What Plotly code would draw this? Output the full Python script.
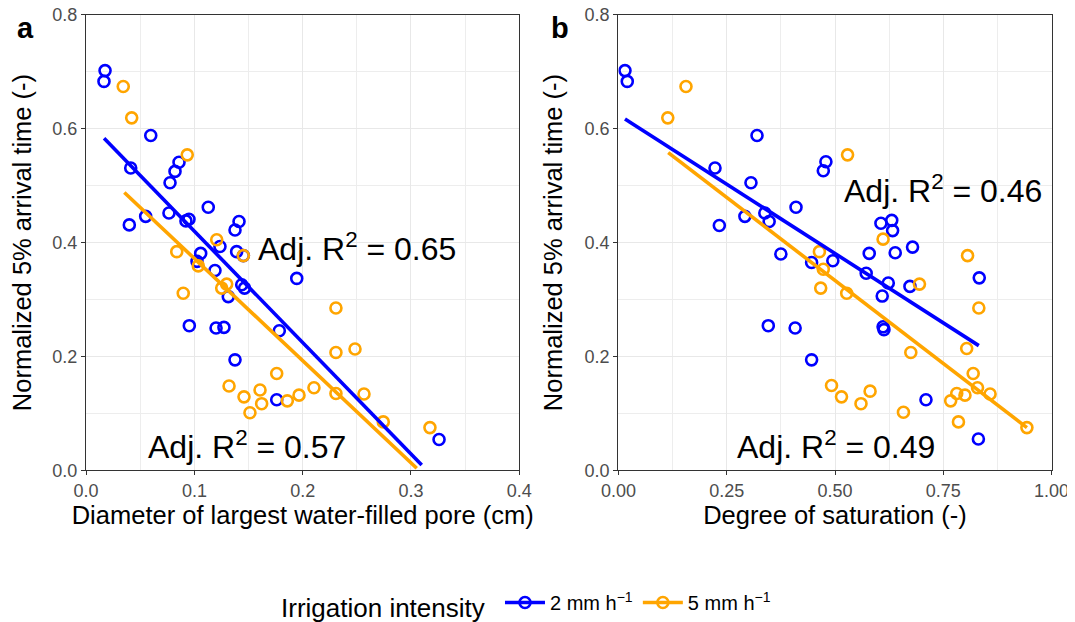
import plotly.graph_objects as go
from plotly.subplots import make_subplots

# panel a: diameter of largest water-filled pore (cm)
a_blue_x = [0.0175, 0.0165, 0.0597, 0.0412, 0.0399, 0.055, 0.0775, 0.0821, 0.0858, 0.0765,
            0.0922, 0.095, 0.1128, 0.1412, 0.1375, 0.1236, 0.1058, 0.1024, 0.139, 0.1452,
            0.119, 0.1313, 0.1437, 0.1463, 0.1945, 0.0953, 0.12, 0.1273, 0.1784, 0.1375,
            0.176, 0.3259]
a_blue_y = [0.702, 0.683, 0.588, 0.531, 0.431, 0.446, 0.505, 0.525, 0.541, 0.452,
            0.438, 0.441, 0.462, 0.437, 0.422, 0.393, 0.381, 0.367, 0.384, 0.377,
            0.351, 0.305, 0.326, 0.320, 0.337, 0.254, 0.250, 0.251, 0.245, 0.194,
            0.124, 0.054]
a_orange_x = [0.0343, 0.0421, 0.0934, 0.0837, 0.1206, 0.1452, 0.1036, 0.0897, 0.1252, 0.1298,
              0.2307, 0.2307, 0.2483, 0.176, 0.132, 0.1458, 0.1606, 0.1621, 0.1513, 0.1858,
              0.1966, 0.2104, 0.2307, 0.2566, 0.2744, 0.3175]
a_orange_y = [0.674, 0.619, 0.554, 0.384, 0.405, 0.377, 0.359, 0.311, 0.320, 0.327,
              0.285, 0.207, 0.213, 0.170, 0.148, 0.129, 0.141, 0.117, 0.101, 0.122,
              0.132, 0.145, 0.135, 0.134, 0.085, 0.075]
a_fit_blue_x = [0.0166, 0.3099]
a_fit_blue_y = [0.583, 0.0093]
a_fit_orange_x = [0.0353, 0.3053]
a_fit_orange_y = [0.488, 0.0035]

# panel b: degree of saturation (-)
b_blue_x = [0.0152, 0.0205, 0.320, 0.223, 0.306, 0.479, 0.473, 0.233, 0.292, 0.338,
            0.348, 0.410, 0.375, 0.446, 0.495, 0.579, 0.572, 0.606, 0.631, 0.633,
            0.639, 0.679, 0.623, 0.673, 0.609, 0.833, 0.611, 0.613, 0.346, 0.408,
            0.446, 0.710, 0.831]
b_blue_y = [0.702, 0.683, 0.588, 0.531, 0.505, 0.542, 0.526, 0.430, 0.446, 0.452,
            0.437, 0.462, 0.380, 0.365, 0.368, 0.381, 0.346, 0.434, 0.439, 0.421,
            0.382, 0.392, 0.329, 0.323, 0.306, 0.338, 0.252, 0.247, 0.254, 0.250,
            0.194, 0.124, 0.055]
b_orange_x = [0.156, 0.114, 0.529, 0.464, 0.473, 0.467, 0.527, 0.611, 0.695, 0.806,
              0.832, 0.675, 0.804, 0.819, 0.829, 0.858, 0.492, 0.515, 0.560, 0.581,
              0.658, 0.767, 0.781, 0.800, 0.785, 0.943]
b_orange_y = [0.674, 0.619, 0.554, 0.384, 0.353, 0.320, 0.311, 0.406, 0.327, 0.377,
              0.285, 0.207, 0.214, 0.170, 0.145, 0.134, 0.149, 0.129, 0.117, 0.139,
              0.102, 0.122, 0.135, 0.132, 0.085, 0.075]
b_fit_blue_x = [0.0152, 0.832]
b_fit_blue_y = [0.617, 0.219]
b_fit_orange_x = [0.115, 0.943]
b_fit_orange_y = [0.558, 0.075]

r2_labels = ["0.65", "0.57", "0.46", "0.49"]

a_xticks = [0, 0.1, 0.2, 0.3, 0.4]
a_xtick_text = ["0.0", "0.1", "0.2", "0.3", "0.4"]
b_xticks = [0, 0.25, 0.5, 0.75, 1.0]
b_xtick_text = ["0.00", "0.25", "0.50", "0.75", "1.00"]
yticks = [0, 0.2, 0.4, 0.6, 0.8]
ytick_text = ["0.0", "0.2", "0.4", "0.6", "0.8"]

BLUE = "#0000FF"
ORANGE = "#FFA500"
FONT = "Liberation Sans, Arial, sans-serif"

# the page body has an 8px margin, so pixel positions are shifted by it
OFF = 8
W, H = 1075, 622


def px_x(p):
    return (p - OFF) / W


def px_y(p):
    return 1 - (p - OFF) / H


fig = make_subplots(rows=1, cols=2)


def add_panel(col, bx, by, ox, oy, fbx, fby, fox, foy):
    for x, y, c in [(bx, by, BLUE), (ox, oy, ORANGE)]:
        fig.add_trace(
            go.Scatter(x=x, y=y, mode="markers", showlegend=False,
                       marker=dict(symbol="circle-open", size=11, color=c,
                                   line=dict(width=2.6, color=c))),
            row=1, col=col,
        )
    for x, y, c in [(fbx, fby, BLUE), (fox, foy, ORANGE)]:
        fig.add_trace(
            go.Scatter(x=x, y=y, mode="lines", showlegend=False,
                       line=dict(color=c, width=3.6)),
            row=1, col=col,
        )


add_panel(1, a_blue_x, a_blue_y, a_orange_x, a_orange_y,
          a_fit_blue_x, a_fit_blue_y, a_fit_orange_x, a_fit_orange_y)
add_panel(2, b_blue_x, b_blue_y, b_orange_x, b_orange_y,
          b_fit_blue_x, b_fit_blue_y, b_fit_orange_x, b_fit_orange_y)

# legend entries
for name, c in [("2 mm h<sup>\u22121</sup>", BLUE), ("5 mm h<sup>\u22121</sup>", ORANGE)]:
    fig.add_trace(
        go.Scatter(x=[None], y=[None], mode="lines+markers", name=name,
                   line=dict(color=c, width=3.6),
                   marker=dict(symbol="circle-open", size=11, color=c,
                               line=dict(width=2.6, color=c))),
        row=1, col=1,
    )

axis_common = dict(
    showline=True, mirror=True, linecolor="#333333", linewidth=1.3,
    ticks="outside", ticklen=4, tickwidth=1.1, tickcolor="#333333",
    tickfont=dict(size=18, color="#4D4D4D", family=FONT),
    ticklabeloverflow="allow",
    showgrid=True, gridcolor="#E8E8E8", gridwidth=1.1,
    zeroline=False, automargin=False,
)

fig.update_xaxes(**axis_common)
fig.update_yaxes(**axis_common)

title_font = dict(size=25.5, color="black", family=FONT)

fig.update_xaxes(range=[0, 0.40001], tickvals=a_xticks, ticktext=a_xtick_text,
                 minor=dict(dtick=0.05, showgrid=True, gridcolor="#EDEDED", gridwidth=0.7),
                 domain=[px_x(86.1), px_x(519.3)],
                 title=dict(text="Diameter of largest water-filled pore (cm)",
                            font=title_font, standoff=2),
                 row=1, col=1)
fig.update_xaxes(range=[0, 1.00001], tickvals=b_xticks, ticktext=b_xtick_text,
                 minor=dict(dtick=0.125, showgrid=True, gridcolor="#EDEDED", gridwidth=0.7),
                 domain=[px_x(618.4), px_x(1051.6)],
                 title=dict(text="Degree of saturation (-)", font=title_font, standoff=2),
                 row=1, col=2)
fig.update_yaxes(range=[0, 0.80001], tickvals=yticks, ticktext=ytick_text,
                 minor=dict(dtick=0.1, showgrid=True, gridcolor="#EDEDED", gridwidth=0.7),
                 domain=[px_y(470.3), px_y(14.8)],
                 title=dict(text="Normalized 5% arrival time (-)", font=title_font, standoff=14))

annots = [
    dict(x=0.2497, y=0.392, xref="x", yref="y", text=f"Adj. R<sup>2</sup> = {r2_labels[0]}"),
    dict(x=0.149, y=0.044, xref="x", yref="y", text=f"Adj. R<sup>2</sup> = {r2_labels[1]}"),
    dict(x=0.749, y=0.494, xref="x2", yref="y2", text=f"Adj. R<sup>2</sup> = {r2_labels[2]}"),
    dict(x=0.502, y=0.044, xref="x2", yref="y2", text=f"Adj. R<sup>2</sup> = {r2_labels[3]}"),
]
for a in annots:
    fig.add_annotation(**a, showarrow=False, xanchor="center", yanchor="middle",
                       font=dict(size=32, color="black", family=FONT))

for letter, px in [("a", 25), ("b", 560)]:
    fig.add_annotation(x=px_x(px), y=px_y(28), xref="paper", yref="paper",
                       text=f"<b>{letter}</b>", showarrow=False,
                       xanchor="center", yanchor="middle",
                       font=dict(size=29, color="black", family=FONT))

fig.update_layout(
    width=W, height=H,
    margin=dict(l=0, r=0, t=0, b=0),
    paper_bgcolor="white", plot_bgcolor="white",
    font=dict(family=FONT),
    showlegend=True,
    legend=dict(
        orientation="h", x=px_x(527.5), y=px_y(605), xanchor="center", yanchor="middle",
        title=dict(text="Irrigation intensity ", side="left",
                   font=dict(size=26, color="black", family=FONT)),
        font=dict(size=20, color="black", family=FONT),
        itemwidth=40,
    ),
)

fig.write_html("out.html", config={"displayModeBar": False})
